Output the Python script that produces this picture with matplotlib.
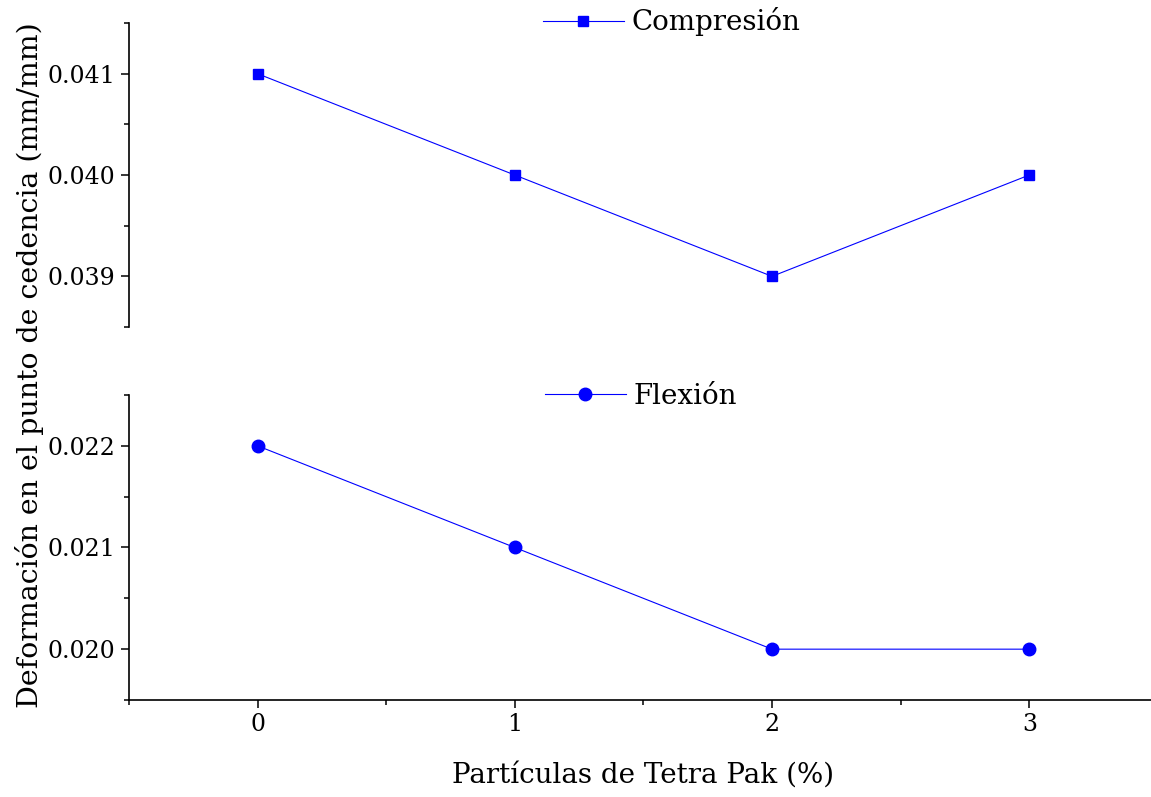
import matplotlib
matplotlib.use("Agg")
import matplotlib.pyplot as plt
from matplotlib.ticker import MultipleLocator, FormatStrFormatter

# data
tetra_pak = [0, 1, 2, 3]
compresion = [0.041, 0.040, 0.039, 0.040]
flexion = [0.022, 0.021, 0.020, 0.020]

plt.rcParams['font.family'] = ['DejaVu Serif']
azul = '#0000FF'

fig = plt.figure(figsize=(11.51, 7.97), dpi=100)
ax_top = fig.add_axes([0.112, 0.5897, 0.894, 0.3814])
ax_bot = fig.add_axes([0.112, 0.1217, 0.894, 0.3827])

ax_top.plot(tetra_pak, compresion, color=azul, lw=0.8, marker='s', ms=7.5,
            label='Compresión')
ax_bot.plot(tetra_pak, flexion, color=azul, lw=0.8, marker='o', ms=9,
            label='Flexión')

ax_top.set_ylim(0.0385, 0.0415)
ax_bot.set_ylim(0.0195, 0.0225)
for ax in (ax_top, ax_bot):
    ax.set_xlim(-0.5, 3.5)
    ax.yaxis.set_major_locator(MultipleLocator(0.001))
    ax.yaxis.set_minor_locator(MultipleLocator(0.0005))
    ax.yaxis.set_major_formatter(FormatStrFormatter('%.3f'))
    ax.xaxis.set_major_locator(MultipleLocator(1))
    ax.xaxis.set_minor_locator(MultipleLocator(0.5))
    ax.spines['top'].set_visible(False)
    ax.spines['right'].set_visible(False)
    for s in ax.spines.values():
        s.set_linewidth(1.2)
    ax.tick_params(which='major', direction='out', length=6, width=1.1,
                   labelsize=17)
    ax.tick_params(which='minor', direction='out', length=3.5, width=1.1)

ax_top.spines['bottom'].set_visible(False)
ax_top.tick_params(axis='x', which='both', bottom=False, labelbottom=False)

ax_bot.set_xlabel('Partículas de Tetra Pak (%)', fontsize=20, labelpad=18)
fig.text(0.026, 0.542, 'Deformación en el punto de cedencia (mm/mm)',
         rotation=90, fontsize=20.5, ha='center', va='center')

ax_top.legend(loc='center left', bbox_to_anchor=(543 / 1151, 1 - 22 / 797),
              bbox_transform=fig.transFigure, frameon=False, fontsize=20,
              handlelength=2.9, handletextpad=0.3, borderpad=0,
              borderaxespad=0)
ax_bot.legend(loc='center left', bbox_to_anchor=(545 / 1151, 1 - 396 / 797),
              bbox_transform=fig.transFigure, frameon=False, fontsize=20,
              handlelength=2.9, handletextpad=0.3, borderpad=0,
              borderaxespad=0)

fig.savefig('out.png', dpi=100)
